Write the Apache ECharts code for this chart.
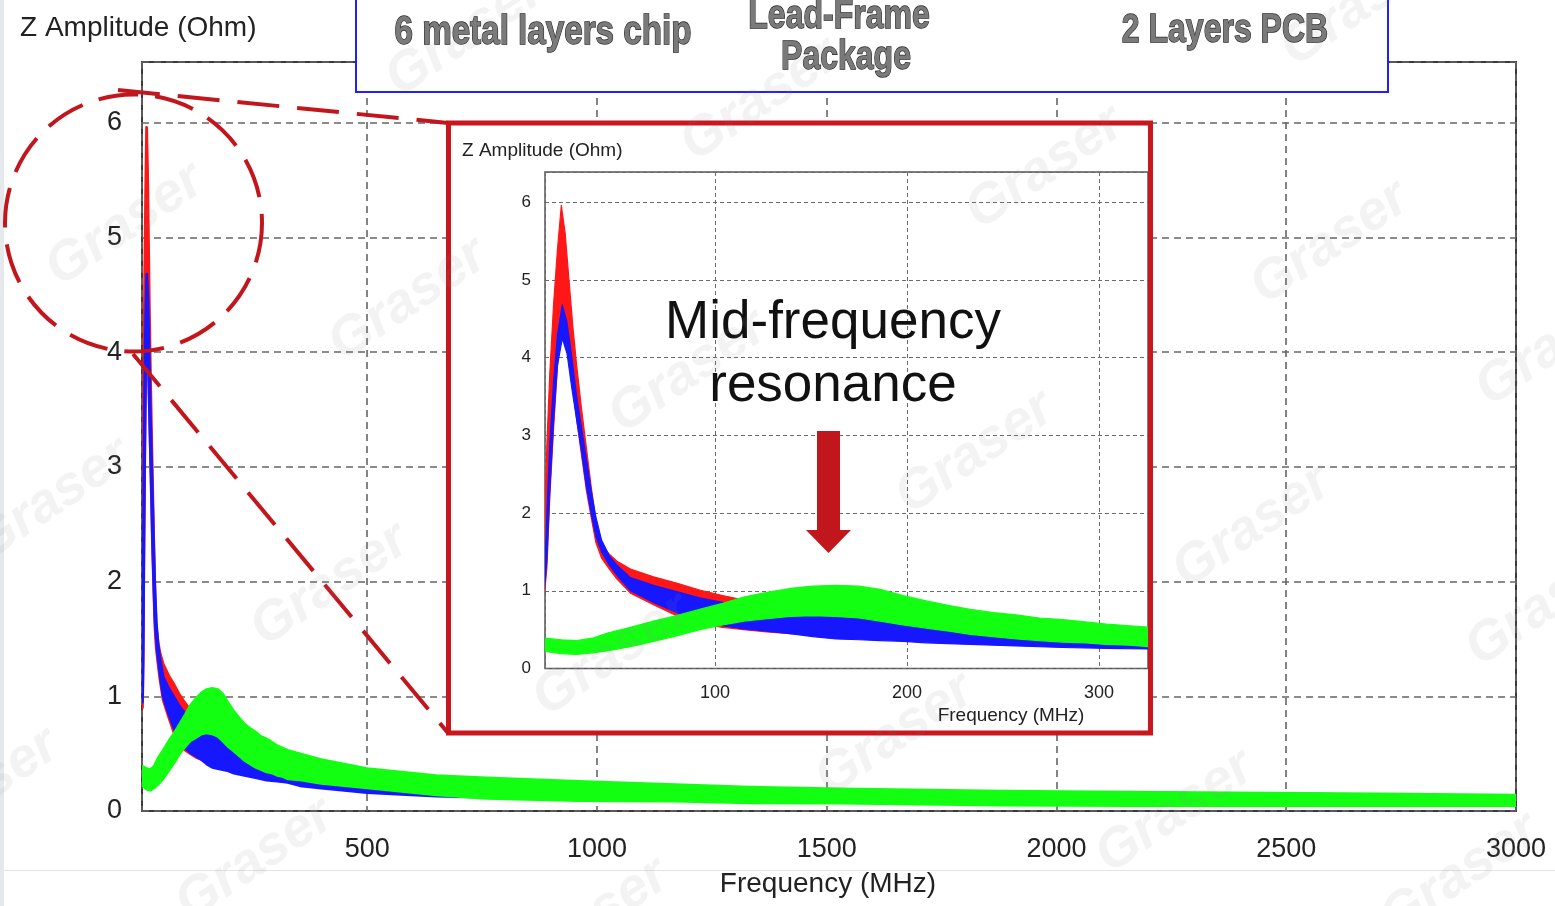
<!DOCTYPE html>
<html>
<head>
<meta charset="utf-8">
<script src="https://cdn.jsdelivr.net/npm/echarts@6/dist/echarts.min.js"></script>
<style>
html,body{margin:0;padding:0;background:#fff;}
#chart{width:1555px;height:906px;}
</style>
</head>
<body>
<div id="chart"></div>
<script>
// ---- data (frequency in MHz, impedance in Ohm) ----
const freqRed  = [11, 12.5, 14, 16, 18, 20, 22, 24, 26, 28, 30.5, 33, 35.5, 38, 41, 45, 49, 56, 68, 80, 92, 104, 115, 127, 139, 151, 163, 186, 210, 257, 304, 354, 500, 1000, 1500, 2000, 2500, 3000];
const redUpper = [1.7, 2.9, 3.8, 4.7, 5.4, 5.96, 5.6, 5.0, 4.4, 3.9, 3.35, 2.85, 2.35, 1.9, 1.6, 1.47, 1.38, 1.28, 1.18, 1.1, 1.01, 0.94, 0.88, 0.82, 0.77, 0.71, 0.66, 0.58, 0.52, 0.42, 0.36, 0.31, 0.25, 0.2, 0.18, 0.16, 0.15, 0.13];
const redLower = [0.9, 1.3, 2.2, 3.1, 3.9, 4.4, 4.5, 4.1, 3.6, 3.2, 2.75, 2.3, 1.95, 1.62, 1.42, 1.28, 1.15, 0.97, 0.82, 0.68, 0.58, 0.53, 0.5, 0.47, 0.45, 0.43, 0.4, 0.38, 0.35, 0.31, 0.28, 0.23, 0.17, 0.11, 0.09, 0.08, 0.07, 0.07];

const freqBlue  = [11, 12.5, 14, 16, 18, 20.5, 23, 25.5, 28, 30.5, 33, 35.5, 38, 41, 45, 49, 56, 68, 80, 92, 104, 115, 127, 139, 151, 163, 175, 186, 198, 210, 233, 257, 281, 304, 327, 354, 400, 500, 650, 1000, 1500, 2000, 2500, 3000];
const blueUpper = [1.0, 2.0, 2.9, 3.7, 4.3, 4.68, 4.45, 4.0, 3.5, 3.1, 2.7, 2.3, 1.95, 1.65, 1.45, 1.33, 1.17, 1.07, 0.99, 0.91, 0.85, 0.8, 0.76, 0.73, 0.7, 0.68, 0.66, 0.62, 0.58, 0.54, 0.47, 0.42, 0.38, 0.35, 0.33, 0.31, 0.28, 0.25, 0.22, 0.2, 0.18, 0.16, 0.15, 0.13];
const blueLower = [0.95, 1.4, 2.3, 3.2, 3.9, 4.25, 4.05, 3.6, 3.2, 2.8, 2.35, 2.0, 1.7, 1.5, 1.33, 1.2, 1.0, 0.85, 0.72, 0.61, 0.55, 0.51, 0.48, 0.45, 0.41, 0.38, 0.37, 0.36, 0.35, 0.33, 0.31, 0.29, 0.27, 0.26, 0.25, 0.22, 0.2, 0.16, 0.13, 0.1, 0.08, 0.07, 0.06, 0.06];

const freqGreen  = [11.5, 20, 28, 36, 44.5, 56, 68, 80, 92, 104, 115, 127, 139, 151, 163, 175, 186, 198, 210, 222, 233, 245, 257, 269, 281, 293, 304, 316, 327, 354, 400, 500, 650, 760, 960, 1170, 1330, 1530, 1880, 2160, 2380, 2700, 3000];
const greenUpper = [0.39, 0.37, 0.36, 0.39, 0.46, 0.53, 0.61, 0.68, 0.76, 0.84, 0.92, 0.98, 1.03, 1.06, 1.07, 1.06, 1.02, 0.94, 0.87, 0.81, 0.76, 0.72, 0.69, 0.65, 0.63, 0.6, 0.57, 0.55, 0.53, 0.5, 0.45, 0.37, 0.31, 0.29, 0.26, 0.23, 0.21, 0.195, 0.175, 0.165, 0.16, 0.15, 0.14];
const greenLower = [0.22, 0.19, 0.18, 0.2, 0.23, 0.28, 0.35, 0.42, 0.5, 0.56, 0.61, 0.64, 0.67, 0.68, 0.67, 0.65, 0.61, 0.56, 0.52, 0.48, 0.44, 0.41, 0.38, 0.36, 0.34, 0.33, 0.31, 0.3, 0.28, 0.27, 0.24, 0.2, 0.14, 0.11, 0.09, 0.085, 0.07, 0.067, 0.05, 0.045, 0.045, 0.045, 0.045];

const yTickLabels = ['0', '1', '2', '3', '4', '5', '6'];
const mainXTickLabels = ['500', '1000', '1500', '2000', '2500', '3000'];
const insetXTickLabels = ['100', '200', '300'];

const axisTitle = 'Z Amplitude (Ohm)';
const freqTitle = 'Frequency (MHz)';
const headerTexts = ['6 metal layers chip', 'Lead-Frame', 'Package', '2 Layers PCB'];
const noteLines = ['Mid-frequency', 'resonance'];

// ---- colours ----
const RED = '#ff1717', BLUE = '#1717ff', GREEN = '#12ff12';
const DARKRED = '#c3161c';
const FONT = '"Liberation Sans", Arial, sans-serif';

// Each band (envelope of many traces) is drawn as one filled polygon,
// positioned through the axes with api.coord.
function band(freq, lo, hi, color, idx, z, lw) {
  return {
    type: 'custom', xAxisIndex: idx, yAxisIndex: idx, z: z, clip: true, silent: true,
    data: freq.map((f, i) => [f, lo[i], hi[i]]),
    encode: { x: 0, y: [1, 2] },
    renderItem: function (params, api) {
      if (params.dataIndex !== 0) return null;
      const top = freq.map((f, i) => api.coord([f, hi[i]]));
      const bottom = freq.map((f, i) => api.coord([f, lo[i]])).reverse();
      return {
        type: 'polygon',
        shape: { points: top.concat(bottom) },
        style: { fill: color, stroke: color, lineWidth: lw, lineJoin: 'round' }
      };
    }
  };
}

const series = [
  band(freqRed, redLower, redUpper, RED, 0, 2, 2.8),
  band(freqBlue, blueLower, blueUpper, BLUE, 0, 2, 2.8),
  band(freqGreen, greenLower, greenUpper, GREEN, 0, 2, 2.5),
  band(freqRed, redLower, redUpper, RED, 1, 30, 1.2),
  band(freqBlue, blueLower, blueUpper, BLUE, 1, 30, 1.2),
  band(freqGreen, greenLower, greenUpper, GREEN, 1, 30, 1.2)
];

function listLabel(list) {
  return function (v) {
    const s = String(Math.round(v));
    return (Math.abs(v - Math.round(v)) < 1e-6 && list.indexOf(s) >= 0) ? s : '';
  };
}

const watermarks = [
  [125, 225], [408, 300], [52, 500], [330, 585], [-20, 790], [255, 860],
  [688, 372], [612, 655], [760, 100], [465, 35], [1045, 168], [975, 453],
  [895, 735], [1330, 243], [1252, 527], [1175, 812], [1545, 605], [1460, 875],
  [1360, 5], [590, 920], [1555, 345]
];

const graphics = [
  { type: 'rect', z: 1, silent: true, shape: { x: 0, y: 0, width: 4, height: 906 }, style: { fill: '#e5e9eb' } },
  { type: 'line', z: 1, silent: true, shape: { x1: 4, y1: 870.5, x2: 1555, y2: 870.5 }, style: { stroke: '#dfe5e8', lineWidth: 1 } },
  // main titles
  { type: 'text', z: 5, x: 20, y: 28, style: { text: axisTitle, font: '28px ' + FONT, fill: '#222', align: 'left', verticalAlign: 'middle', textAlign: 'left', textVerticalAlign: 'middle' } },
  { type: 'text', z: 5, x: 828, y: 884, style: { text: freqTitle, font: '28px ' + FONT, fill: '#222', align: 'center', verticalAlign: 'middle', textAlign: 'center', textVerticalAlign: 'middle' } },
  // inset white panel
  { type: 'rect', z: 10, silent: true, shape: { x: 448.5, y: 123, width: 702, height: 610 }, style: { fill: '#fff' } },
  { type: 'text', z: 31, x: 462, y: 151, style: { text: axisTitle, font: '19px ' + FONT, fill: '#222', align: 'left', verticalAlign: 'middle', textAlign: 'left', textVerticalAlign: 'middle' } },
  { type: 'text', z: 31, x: 1011, y: 716, style: { text: freqTitle, font: '19px ' + FONT, fill: '#222', align: 'center', verticalAlign: 'middle', textAlign: 'center', textVerticalAlign: 'middle' } },
  { type: 'rect', z: 40, silent: true, shape: { x: 448.5, y: 123, width: 702, height: 610 }, style: { fill: 'none', stroke: '#c8171e', lineWidth: 5 } },
  // note text + arrow
  { type: 'text', z: 41, x: 833, y: 323, style: { text: noteLines[0], font: '53px ' + FONT, fill: '#111', align: 'center', verticalAlign: 'middle', textAlign: 'center', textVerticalAlign: 'middle' } },
  { type: 'text', z: 41, x: 833, y: 386, style: { text: noteLines[1], font: '53px ' + FONT, fill: '#111', align: 'center', verticalAlign: 'middle', textAlign: 'center', textVerticalAlign: 'middle' } },
  { type: 'polygon', z: 41, silent: true, shape: { points: [[817, 431], [840, 431], [840, 530], [851, 530], [828.5, 553], [806, 530], [817, 530]] }, style: { fill: '#c1161b' } },
  // zoom callout
  { type: 'circle', z: 45, silent: true, shape: { cx: 133.5, cy: 223, r: 128.5 }, style: { fill: 'none', stroke: DARKRED, lineWidth: 4, lineDash: [40, 17] } },
  { type: 'line', z: 45, silent: true, shape: { x1: 118, y1: 90, x2: 448, y2: 123 }, style: { stroke: DARKRED, lineWidth: 4, lineDash: [42, 18] } },
  { type: 'line', z: 45, silent: true, shape: { x1: 133, y1: 354, x2: 448, y2: 733 }, style: { stroke: DARKRED, lineWidth: 4, lineDash: [42, 18] } },
  // header box
  { type: 'rect', z: 50, silent: true, shape: { x: 356, y: -4, width: 1032, height: 96 }, style: { fill: '#fff', stroke: '#1f1fff', lineWidth: 2 } }
];

const headerPos = [[543, 33], [839, 17], [846, 58], [1225, 31]];
const headerScale = [0.83, 0.8, 0.8, 0.8];
headerTexts.forEach((t, i) => {
  graphics.push({ type: 'text', z: 51, x: headerPos[i][0], y: headerPos[i][1], scaleX: headerScale[i],
    style: { text: t, x: 0, y: 0, font: 'bold 40px ' + FONT, fill: '#7a7a7a', stroke: '#2a2a2a', lineWidth: 1.4,
      align: 'center', verticalAlign: 'middle', textAlign: 'center', textVerticalAlign: 'middle' } });
});

watermarks.forEach(p => {
  graphics.push({ type: 'text', z: 60, silent: true, x: p[0], y: p[1], rotation: 34 * Math.PI / 180,
    style: { text: 'Graser', x: 0, y: 0, font: 'italic bold 55px ' + FONT, fill: 'rgba(140,140,140,0.10)',
      align: 'center', verticalAlign: 'middle', textAlign: 'center', textVerticalAlign: 'middle' } });
});

const option = {
  animation: false,
  backgroundColor: '#fff',
  grid: [
    { left: 142, right: 39, top: 62, bottom: 95, show: true, borderColor: '#3a3a3a', borderWidth: 2, backgroundColor: 'transparent' },
    { left: 545, right: 407, top: 172, bottom: 237.5, show: true, borderColor: '#555', borderWidth: 1.5, backgroundColor: '#fff', z: 25 }
  ],
  xAxis: [
    { type: 'value', gridIndex: 0, min: 10, max: 3000, splitNumber: 6,
      axisLine: { show: false }, axisTick: { show: false },
      axisLabel: { fontSize: 27, fontFamily: FONT, color: '#222', margin: 25, formatter: listLabel(mainXTickLabels) },
      splitLine: { show: true, lineStyle: { color: '#666', width: 1.6, type: [7, 5] } } },
    { type: 'value', gridIndex: 1, min: 11.5, max: 325.5, splitNumber: 3, z: 28,
      axisLine: { show: false }, axisTick: { show: false },
      axisLabel: { fontSize: 18, fontFamily: FONT, color: '#222', margin: 16, formatter: listLabel(insetXTickLabels) },
      splitLine: { show: true, lineStyle: { color: '#6a6a6a', width: 1, type: [4, 3] } } }
  ],
  yAxis: [
    { type: 'value', gridIndex: 0, min: 0, max: 6.53, interval: 1,
      axisLine: { show: false }, axisTick: { show: false },
      axisLabel: { fontSize: 27, fontFamily: FONT, color: '#222', margin: 20, formatter: listLabel(yTickLabels) },
      splitLine: { show: true, lineStyle: { color: '#666', width: 1.6, type: [7, 5] } } },
    { type: 'value', gridIndex: 1, min: 0, max: 6.39, interval: 1, z: 28,
      axisLine: { show: false }, axisTick: { show: false },
      axisLabel: { fontSize: 17, fontFamily: FONT, color: '#222', margin: 14, formatter: listLabel(yTickLabels) },
      splitLine: { show: true, lineStyle: { color: '#6a6a6a', width: 1, type: [4, 3] } } }
  ],
  series: series,
  graphic: { elements: graphics }
};

const chart = echarts.init(document.getElementById('chart'), null, { renderer: 'canvas' });
chart.setOption(option);
</script>
</body>
</html>
